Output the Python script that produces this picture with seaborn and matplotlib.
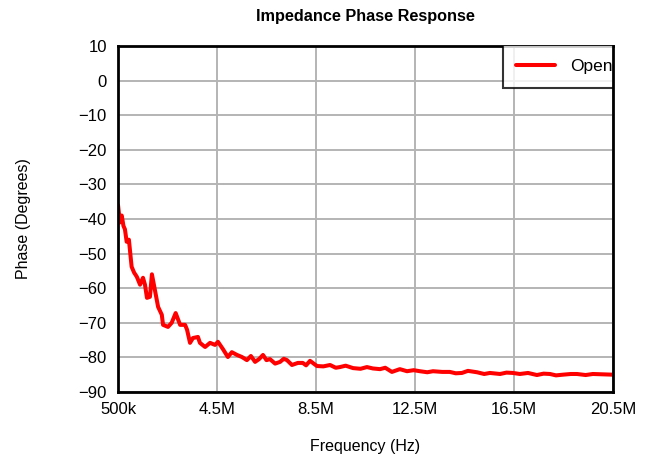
import numpy as np
import pandas as pd
import seaborn as sns
import matplotlib.pyplot as plt

# Данные (частота в МГц, фаза в градусах)
freq_mhz = [0.5, 0.58, 0.65, 0.72, 0.78, 0.85, 0.94, 1.05, 1.15, 1.26, 1.39, 1.51, 1.59, 1.67,
            1.79, 1.87, 1.99, 2.12, 2.27, 2.32, 2.52, 2.67, 2.83, 3.01, 3.21, 3.29,
            3.41, 3.53, 3.73, 3.81, 4.02, 4.22, 4.42, 4.54, 4.74, 4.94, 5.1, 5.31, 5.51,
            5.71, 5.87, 6.04, 6.2, 6.36, 6.5, 6.64, 6.85, 7.05, 7.2, 7.33, 7.53, 7.77, 7.97,
            8.1, 8.26, 8.54, 8.8, 9.07, 9.3, 9.47, 9.7, 10.0, 10.3, 10.56, 10.8, 11.09,
            11.3, 11.57, 11.89, 12.18, 12.45, 12.7, 13.0, 13.23, 13.6, 13.91, 14.15,
            14.40, 14.64, 15.01, 15.3, 15.53, 15.94, 16.2, 16.46, 16.74, 17.07, 17.43,
            17.7, 17.96, 18.2, 18.48, 18.8, 19.05, 19.4, 19.69, 20.1, 20.5]
phase_deg = [-36, -41, -39, -42, -43, -46.6, -46, -53.8, -55.5, -56.7, -59, -57, -59, -62.8,
             -62.5, -56, -60.5, -65.4, -67.7, -70.6, -71.2, -70, -67.2, -70.6, -70.6, -72,
             -75.8, -74.4, -74.1, -75.8, -77, -75.8, -76.4, -75.5, -77.6, -79.9, -78.5, -79.3,
             -79.9, -80.8, -79.6, -81.3, -80.5, -79.3, -80.8, -80.5, -81.8, -81.3, -80.4,
             -80.8, -82.2, -81.6, -81.6, -82.3, -81, -82.5, -82.6, -82.2, -83.0, -82.8, -82.4,
             -83.1, -83.3, -82.8, -83.2, -83.4, -83.0, -84.2, -83.4, -84, -83.7, -84, -84.3,
             -84, -84.2, -84.2, -84.6, -84.5, -83.9, -84.3, -84.8, -84.5, -84.8, -84.4,
             -84.5, -84.8, -84.5, -85.1, -84.7, -84.8, -85.2, -85, -84.8, -84.8, -85.1,
             -84.8, -84.9, -85]

x_ticks = [0.5e6, 4.5e6, 8.5e6, 12.5e6, 16.5e6, 20.5e6]
x_labels = ['500k', '4.5M', '8.5M', '12.5M', '16.5M', '20.5M']
y_ticks = list(range(10, -100, -10))
y_labels = [str(v).replace('-', '\u2212') for v in y_ticks]

df = pd.DataFrame({'Frequency': np.array(freq_mhz) * 1e6, 'Phase': phase_deg})

sns.set_style('white')
plt.rcParams['font.family'] = ['Liberation Sans', 'DejaVu Sans']
plt.rcParams['text.color'] = 'black'
plt.rcParams['axes.labelcolor'] = 'black'
plt.rcParams['xtick.color'] = 'black'
plt.rcParams['ytick.color'] = 'black'

fig = plt.figure(figsize=(6.52, 4.59), dpi=100)
ax = fig.add_axes([0.181, 0.146, 0.759, 0.754])

sns.lineplot(data=df, x='Frequency', y='Phase', color='#ff0000', linewidth=2.9,
             label='Open', ax=ax)

ax.set_xlim(0.5e6, 20.5e6)
ax.set_ylim(-90, 10)
ax.set_xticks(x_ticks)
ax.set_xticklabels(x_labels, fontsize=12)
ax.set_yticks(y_ticks)
ax.set_yticklabels(y_labels, fontsize=12)
ax.tick_params(axis='y', length=0, pad=8)
ax.tick_params(axis='x', length=0, pad=7)
ax.grid(True, color='#b4b4b4', linewidth=1.4)
for s in ax.spines.values():
    s.set_color('black')
    s.set_linewidth(2)

ax.set_title('Impedance Phase Response', fontsize=11.7, fontweight='bold', pad=18)
ax.set_xlabel('Frequency (Hz)', fontsize=11.5, labelpad=16)
ax.set_ylabel('Phase (Degrees)', fontsize=11.5, labelpad=34)

# Легенда, обрезанная правой границей осей
leg = ax.legend(loc='upper left', bbox_to_anchor=(0.777, 1.003), fontsize=12.5,
                frameon=True, fancybox=False, handlelength=2.2, handletextpad=0.9,
                borderpad=0.8, borderaxespad=0)
frame = leg.get_frame()
frame.set_edgecolor('black')
frame.set_linewidth(1.5)
frame.set_clip_on(True)
frame.set_clip_path(ax.patch)
for t in leg.get_texts():
    t.set_clip_on(True)
    t.set_clip_path(ax.patch)
ax.spines['right'].set_zorder(10)

fig.savefig('out.png', dpi=100)
